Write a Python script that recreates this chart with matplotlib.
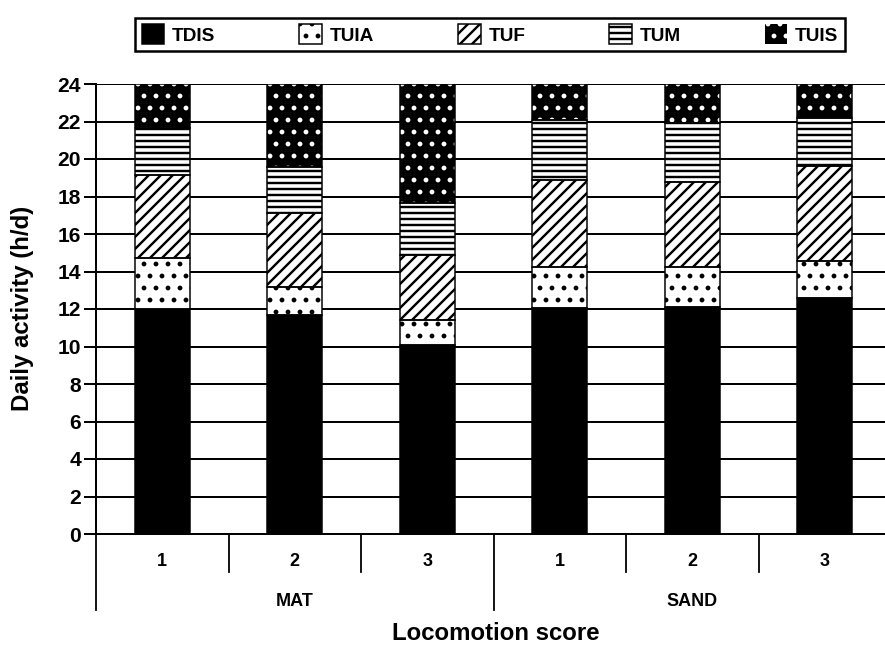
import matplotlib
matplotlib.use('Agg')
import matplotlib.pyplot as plt
from matplotlib.patches import Patch
from matplotlib.transforms import blended_transform_factory

plt.rcParams['font.family'] = ['Liberation Sans', 'DejaVu Sans']
plt.rcParams['font.weight'] = 'bold'
plt.rcParams['hatch.linewidth'] = 2.4

# data (h/d)
surfaces = ['MAT', 'SAND']
scores = ['1', '2', '3', '1', '2', '3']
tdis = [12.0, 11.7, 10.1, 12.05, 12.1, 12.6]
tuia = [2.7, 1.5, 1.3, 2.2, 2.15, 1.95]
tuf = [4.45, 3.9, 3.5, 4.65, 4.5, 5.1]
tum = [2.5, 2.45, 2.75, 3.2, 3.15, 2.55]
tuis = [2.35, 4.45, 6.35, 1.9, 2.1, 1.8]

series = [('TDIS', tdis, 'black', 'black', None),
          ('TUIA', tuia, 'white', 'black', '.'),
          ('TUF', tuf, 'white', 'black', '//'),
          ('TUM', tum, 'white', 'black', '--'),
          ('TUIS', tuis, 'black', 'white', '.')]

fig = plt.figure(figsize=(885 / 72, 646 / 72), dpi=72)
ax = fig.add_axes([96 / 885, 1 - 534 / 646, 795 / 885, 450 / 646])

x = list(range(len(scores)))
width = 0.415
bottom = [0.0] * len(x)
handles = []
for name, vals, fc, ec, hatch in series:
    ax.bar(x, vals, width, bottom=bottom, color=fc, edgecolor=ec,
           hatch=hatch, linewidth=0, zorder=3)
    ax.bar(x, vals, width, bottom=bottom, fill=False, edgecolor='black',
           linewidth=1.5, zorder=4)
    handles.append(Patch(facecolor=fc, edgecolor=ec, hatch=hatch,
                         linewidth=1.5 if ec == 'black' else 0, label=name))
    bottom = [bt + v for bt, v in zip(bottom, vals)]

ax.set_xlim(-0.5, 5.5)
ax.set_ylim(0, 24)
ax.set_yticks(range(0, 25, 2))
ax.set_xticks([])
ax.yaxis.grid(True, color='black', linewidth=2)
ax.set_axisbelow(True)
for s in ['top', 'right']:
    ax.spines[s].set_visible(False)
ax.spines['left'].set_linewidth(2)
ax.spines['bottom'].set_linewidth(2)
ax.tick_params(axis='y', length=12, width=2, labelsize=21, pad=3)
for lab in ax.get_yticklabels():
    lab.set_fontweight('bold')

# category axis drawn below the plot
tr = blended_transform_factory(ax.transData, ax.transAxes)
for xs in [0.5, 1.5, 3.5, 4.5]:
    ax.plot([xs, xs], [0, -38 / 450], color='black', lw=1.8,
            transform=tr, clip_on=False)
for xs in [-0.5, 2.5, 5.5]:
    ax.plot([xs, xs], [0, -76 / 450], color='black', lw=1.8,
            transform=tr, clip_on=False)
for xi, s in zip(x, scores):
    ax.text(xi, -28 / 450, s, transform=tr, ha='center', va='center',
            fontsize=18, fontweight='bold')
for gi, s in enumerate(surfaces):
    ax.text(gi * 3 + 1, -68 / 450, s, transform=tr, ha='center',
            va='center', fontsize=18, fontweight='bold')

fig.text(496 / 885, 1 - 633 / 646, 'Locomotion score', ha='center',
         va='center', fontsize=24, fontweight='bold')
fig.text(23 / 885, 1 - 308 / 646, 'Daily activity (h/d)', rotation=90,
         ha='center', va='center', fontsize=24, fontweight='bold')

leg = fig.legend(handles=handles, loc='center', ncol=5, mode='expand',
                 bbox_to_anchor=(135 / 885, 1 - 57 / 646, 710 / 885, 45 / 646),
                 borderaxespad=0, fancybox=False, framealpha=1,
                 edgecolor='black', handlelength=1.2,
                 handleheight=1.2, handletextpad=0.4, borderpad=0.35,
                 prop={'weight': 'bold', 'size': 19})
leg.get_frame().set_linewidth(2.5)

fig.savefig('out.png', dpi=72)
